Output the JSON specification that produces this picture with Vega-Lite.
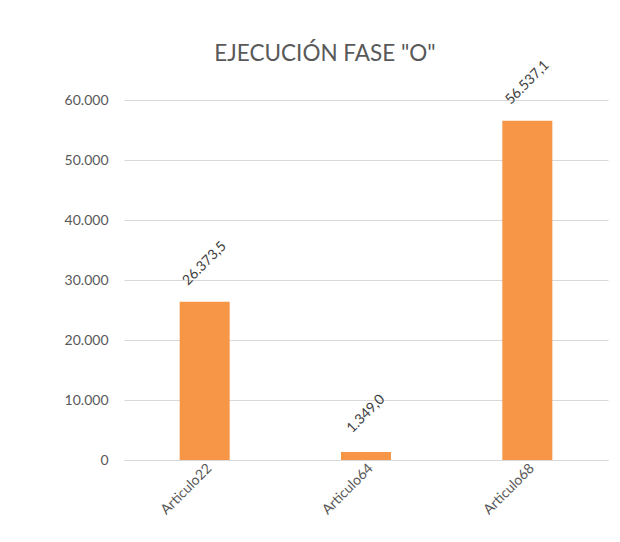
{
  "$schema": "https://vega.github.io/schema/vega-lite/v6.json",
  "autosize": "none",
  "width": 484,
  "height": 360,
  "padding": {"left": 124, "top": 100, "right": 12, "bottom": 82},
  "background": "white",
  "config": {
    "locale": {"number": {"decimal": ",", "thousands": ".", "grouping": [3], "currency": ["", " €"]}},
    "view": {"stroke": null},
    "font": "Lato"
  },
  "title": {
    "text": "EJECUCIÓN FASE \"O\"",
    "fontSize": 22.5,
    "font": "Lato",
    "fontWeight": "normal",
    "color": "#595959",
    "anchor": "middle",
    "frame": "group",
    "baseline": "alphabetic",
    "dx": -41,
    "offset": -25
  },
  "data": {
    "values": [
      {"articulo": "Articulo22", "valor": 26373.5},
      {"articulo": "Articulo64", "valor": 1349.0},
      {"articulo": "Articulo68", "valor": 56537.1}
    ]
  },
  "encoding": {
    "x": {
      "field": "articulo",
      "type": "nominal",
      "sort": null,
      "scale": {"paddingInner": 0.69, "paddingOuter": 0.345},
      "axis": {
        "title": null,
        "labelAngle": -45,
        "labelAlign": "right",
        "labelBaseline": "top",
        "labelFontSize": 14,
        "labelColor": "#595959",
        "labelPadding": 1,
        "ticks": false,
        "domainColor": "#d9d9d9",
        "domainWidth": 1,
        "grid": false
      }
    },
    "y": {
      "field": "valor",
      "type": "quantitative",
      "scale": {"domain": [0, 60000], "nice": false},
      "axis": {
        "title": null,
        "values": [0, 10000, 20000, 30000, 40000, 50000, 60000],
        "format": ",.0f",
        "labelFontSize": 14,
        "labelColor": "#595959",
        "labelPadding": 16,
        "ticks": false,
        "domain": false,
        "gridColor": "#d9d9d9",
        "gridWidth": 1
      }
    }
  },
  "layer": [
    {"mark": {"type": "bar", "color": "#F79646"}},
    {
      "mark": {
        "type": "text",
        "angle": -45,
        "align": "center",
        "baseline": "middle",
        "yOffset": -38,
        "fontSize": 14,
        "color": "#404040"
      },
      "encoding": {
        "text": {"field": "valor", "type": "quantitative", "format": ",.1f"}
      }
    }
  ]
}
